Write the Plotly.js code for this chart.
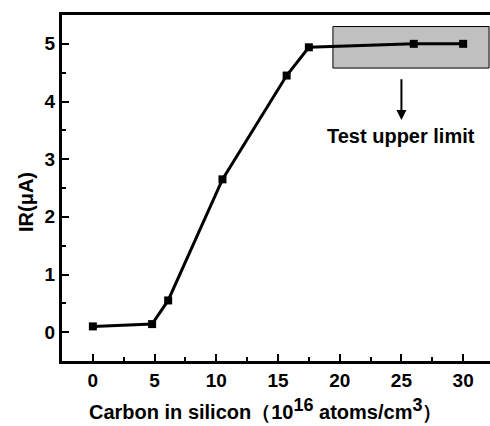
<!DOCTYPE html>
<html>
<head>
<meta charset="utf-8">
<script src="https://cdn.plot.ly/plotly-3.0.1.min.js"></script>
<style>
html,body{margin:0;padding:0;overflow:hidden;background:#fff;}
#chart{width:500px;height:426px;}
</style>
</head>
<body>
<div id="chart"></div>
<script>
// Data
const carbon = [0, 4.8, 6.1, 10.5, 15.7, 17.5, 26, 30];
const irCurrent = [0.1, 0.14, 0.55, 2.65, 4.45, 4.94, 5.0, 5.0];
const xTickVals = [0, 5, 10, 15, 20, 25, 30];
const yTickVals = [0, 1, 2, 3, 4, 5];
const limitBox = {x0: 19.45, x1: 32.1, y0: 4.58, y1: 5.3};
const limitLabel = "Test upper limit";
const xTitle = "Carbon in silicon（10<sup><span style=\"font-size:18px\">16</span></sup> atoms/cm<sup><span style=\"font-size:18px\">3</span></sup>）";
const yTitle = "IR(μA)";

const fontFam = "Liberation Sans, Arial, sans-serif";

const trace = {
  x: carbon,
  y: irCurrent,
  type: 'scatter',
  mode: 'lines+markers',
  line: {color: '#000', width: 3},
  marker: {symbol: 'square', size: 8, color: '#000'},
  showlegend: false,
  hoverinfo: 'x+y'
};

const axisCommon = {
  showgrid: false,
  zeroline: false,
  showline: true,
  linecolor: '#000',
  linewidth: 3,
  mirror: true,
  ticks: 'inside',
  ticklen: 7,
  tickwidth: 2,
  tickcolor: '#000',
  tickfont: {family: fontFam, size: 19, color: '#000', weight: 'bold'}
};

const layout = {
  width: 500,
  height: 426,
  margin: {l: 62, r: 6, t: 15, b: 65},
  paper_bgcolor: '#fff',
  plot_bgcolor: '#fff',
  xaxis: Object.assign({}, axisCommon, {
    range: [-2.5, 32.5],
    tickvals: xTickVals,
    ticktext: xTickVals.map(String),
    minor: {dtick: 2.5, tick0: 0, ticks: 'inside', ticklen: 4, tickwidth: 2, tickcolor: '#000'}
  }),
  yaxis: Object.assign({}, axisCommon, {
    range: [-0.5, 5.5],
    tickvals: yTickVals,
    ticktext: yTickVals.map(String),
    minor: {dtick: 0.5, tick0: 0, ticks: 'inside', ticklen: 4, tickwidth: 2, tickcolor: '#000'}
  }),
  shapes: [{
    type: 'rect', xref: 'x', yref: 'y', layer: 'below',
    x0: limitBox.x0, x1: limitBox.x1, y0: limitBox.y0, y1: limitBox.y1,
    fillcolor: '#c0c0c0', line: {color: '#000', width: 1}
  }],
  annotations: [
    {
      x: 25, y: 3.68, xref: 'x', yref: 'y',
      ax: 25, ay: 4.41, axref: 'x', ayref: 'y',
      text: '', showarrow: true, arrowhead: 2, arrowsize: 1, arrowwidth: 2, arrowcolor: '#000'
    },
    {
      x: 25, y: 3.4, xref: 'x', yref: 'y', xanchor: 'center', yanchor: 'middle',
      text: limitLabel, showarrow: false,
      font: {family: fontFam, size: 20, color: '#000', weight: 'bold'}
    },
    {
      x: 0.47, y: 0, xref: 'paper', yref: 'paper', xanchor: 'center', yanchor: 'bottom',
      yshift: -64,
      text: xTitle, showarrow: false,
      font: {family: fontFam, size: 20, color: '#000', weight: 'bold'}
    },
    {
      x: -0.083, y: 0.46, xref: 'paper', yref: 'paper', xanchor: 'center', yanchor: 'middle',
      text: yTitle, showarrow: false, textangle: -90,
      font: {family: fontFam, size: 20, color: '#000', weight: 'bold'}
    }
  ]
};

Plotly.newPlot('chart', [trace], layout, {displayModeBar: false, staticPlot: true});
</script>
</body>
</html>
